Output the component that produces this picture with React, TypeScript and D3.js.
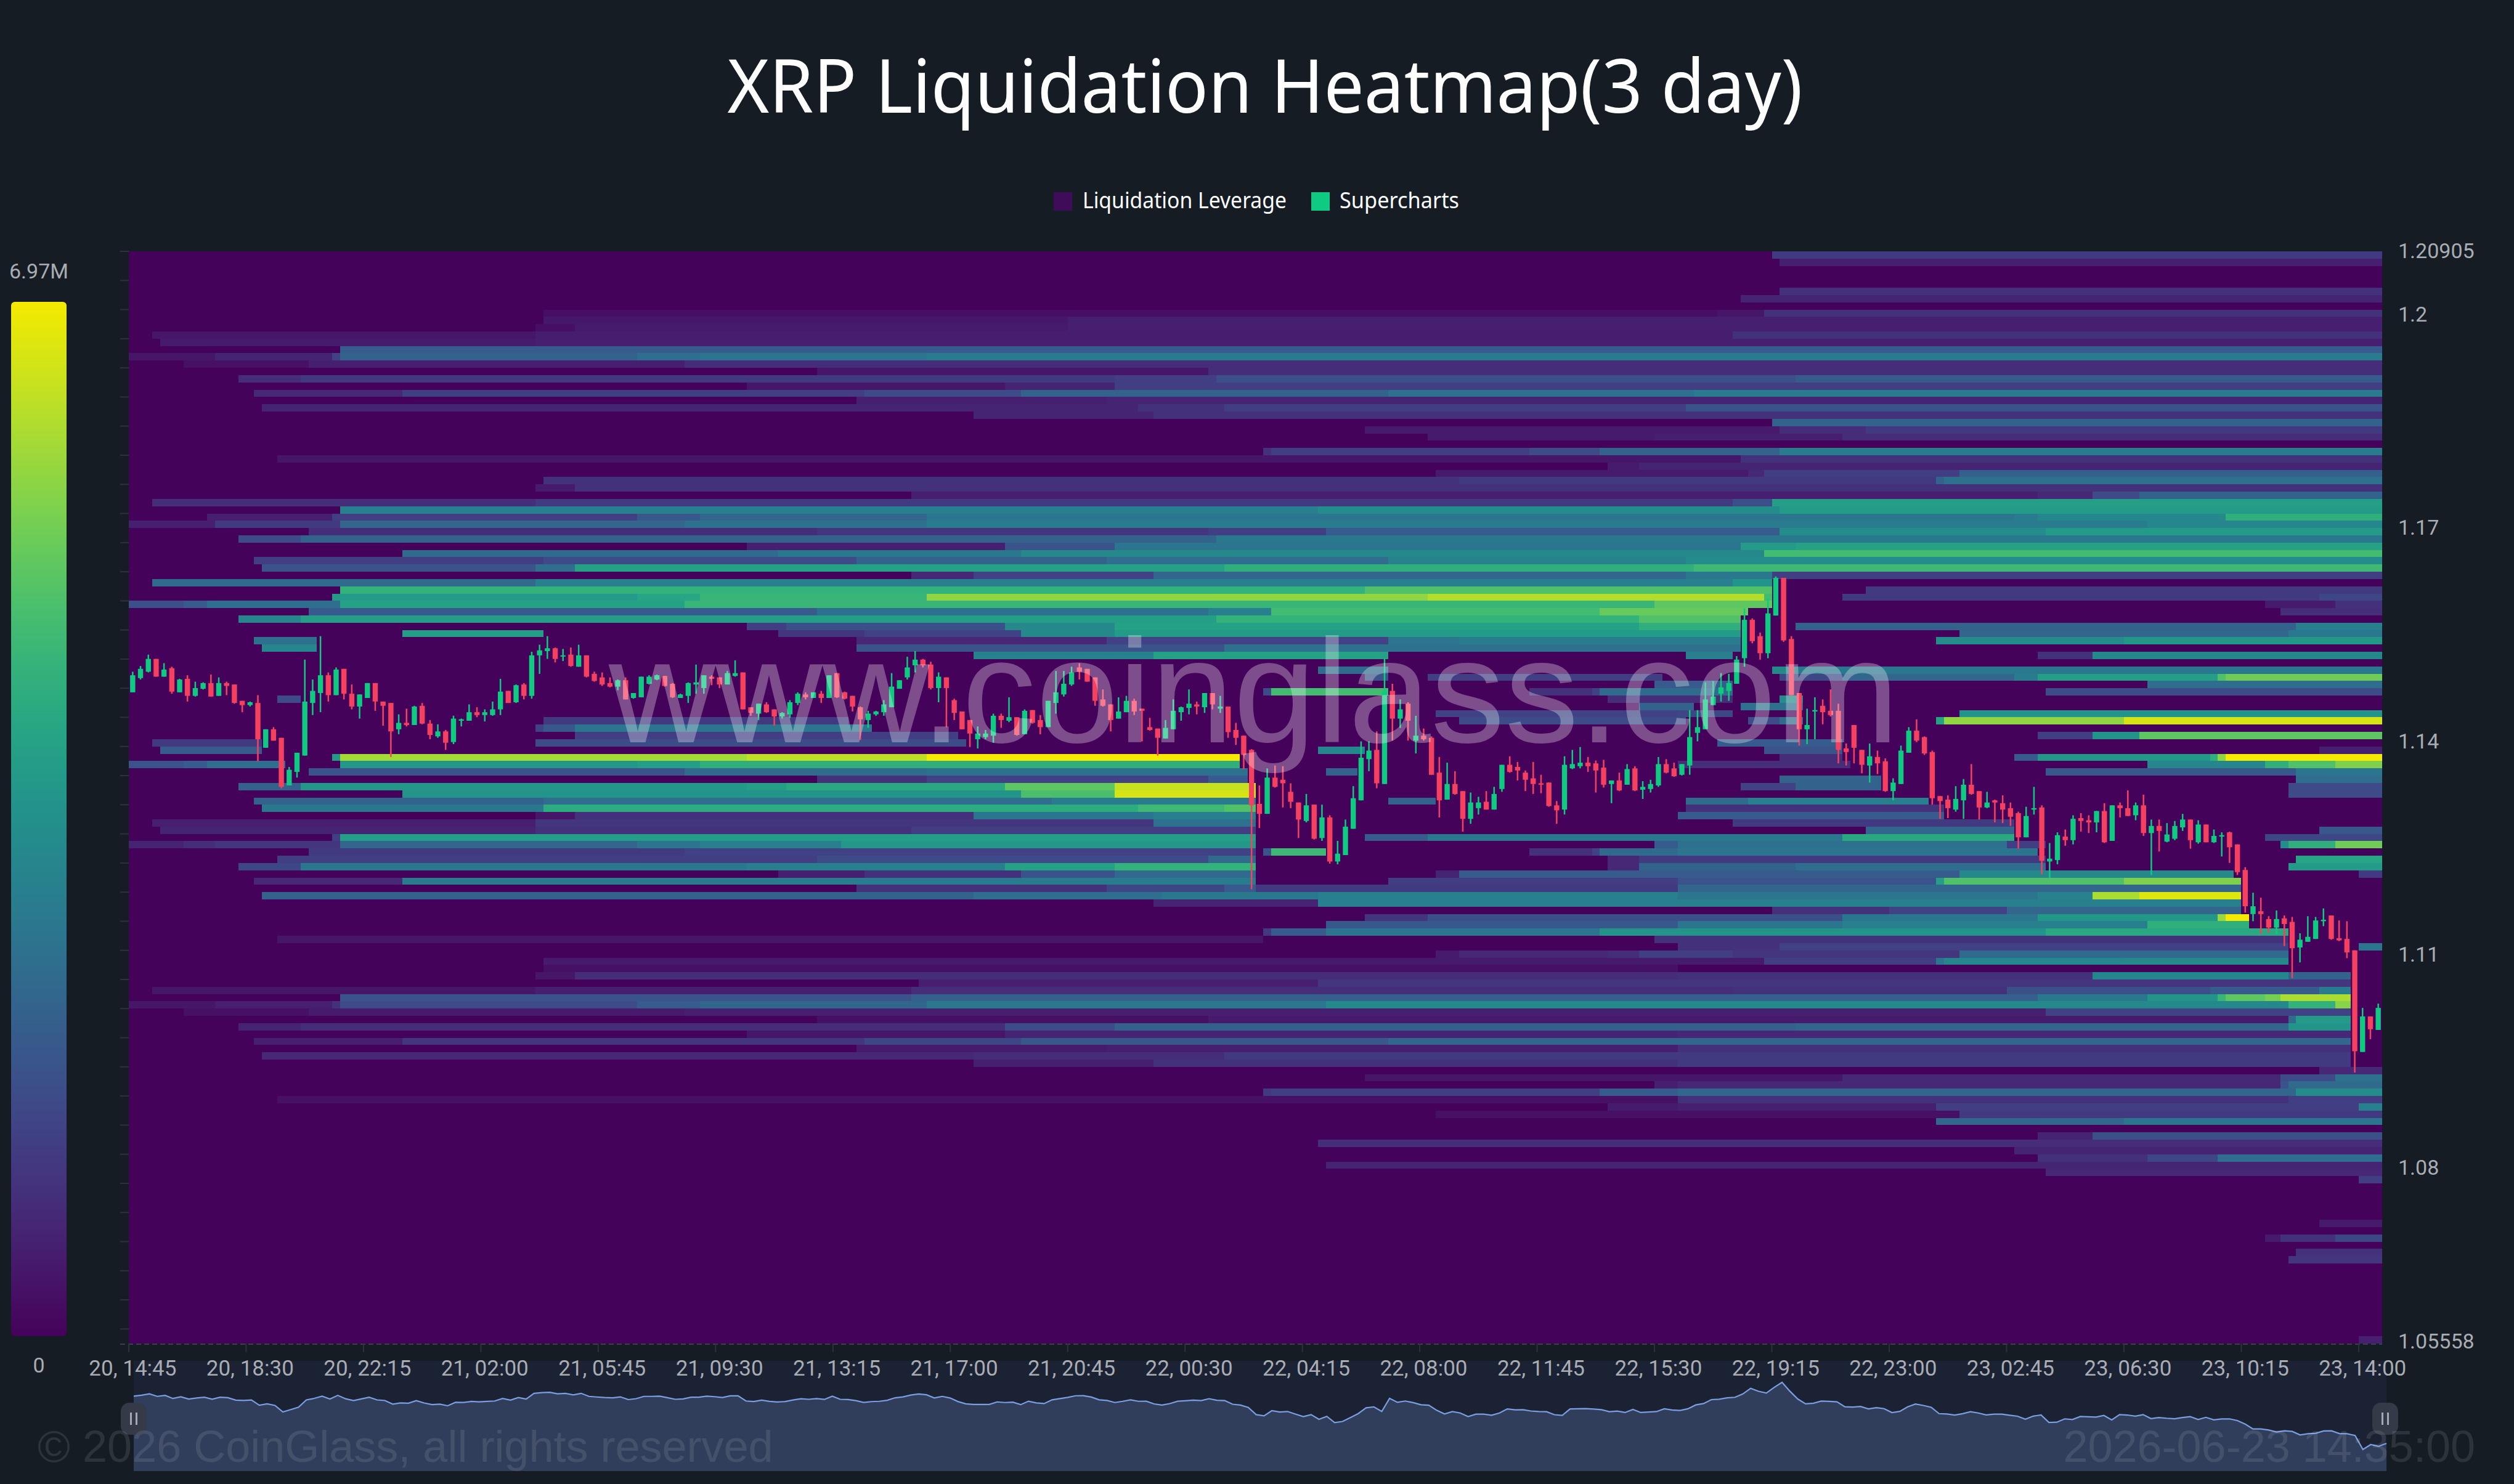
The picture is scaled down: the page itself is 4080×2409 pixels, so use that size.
import React, { useEffect, useRef } from 'react';
import * as d3 from 'd3';

const WIDTH = 4080;
const HEIGHT = 2409;

const titleText = 'XRP Liquidation Heatmap(3 day)';
const maxLabel = '6.97M';
const maxValue = 6.97; // millions
const rowCount = 150;
const colCount = 288; // 15 min columns

const priceTicks = [1.2, 1.17, 1.14, 1.11, 1.08];
const priceEnds = [1.20905, 1.05558];

const timeLabels = [
  '20, 14:45', '20, 18:30', '20, 22:15', '21, 02:00', '21, 05:45', '21, 09:30', '21, 13:15',
  '21, 17:00', '21, 20:45', '22, 00:30', '22, 04:15', '22, 08:00', '22, 11:45', '22, 15:30',
  '22, 19:15', '22, 23:00', '23, 02:45', '23, 06:30', '23, 10:15', '23, 14:00',
];

const colorStops = [
  '#45025a', '#482878', '#3e4989', '#31688e', '#26828e', '#1f9e89', '#35b779', '#6ece58', '#b5de2b', '#f5ea00',
];

// open, high, low, close per 15 min
const candles: number[][] = [
  [1.1468,1.1497,1.1468,1.1492],[1.1488,1.1505,1.1486,1.1501],[1.1497,1.1521,1.1496,1.1515],[1.1515,1.1515,1.1490,1.1490],
  [1.1490,1.1509,1.1490,1.1500],[1.1502,1.1504,1.1466,1.1469],[1.1468,1.1487,1.1468,1.1486],[1.1487,1.1492,1.1455,1.1463],
  [1.1463,1.1483,1.1462,1.1474],[1.1473,1.1482,1.1472,1.1481],[1.1481,1.1493,1.1462,1.1462],[1.1463,1.1489,1.1463,1.1481],
  [1.1481,1.1483,1.1464,1.1477],[1.1479,1.1479,1.1452,1.1453],[1.1456,1.1456,1.1440,1.1450],[1.1450,1.1455,1.1448,1.1454],
  [1.1453,1.1464,1.1371,1.1402],[1.1390,1.1416,1.1390,1.1416],[1.1416,1.1419,1.1400,1.1400],[1.1404,1.1404,1.1333,1.1335],
  [1.1337,1.1363,1.1337,1.1359],[1.1356,1.1383,1.1348,1.1383],[1.1379,1.1514,1.1379,1.1455],[1.1453,1.1486,1.1436,1.1470],
  [1.1467,1.1547,1.1440,1.1492],[1.1492,1.1496,1.1455,1.1464],[1.1464,1.1503,1.1464,1.1500],[1.1501,1.1501,1.1458,1.1466],
  [1.1466,1.1479,1.1444,1.1448],[1.1448,1.1465,1.1431,1.1465],[1.1460,1.1481,1.1460,1.1481],[1.1481,1.1481,1.1442,1.1455],
  [1.1455,1.1455,1.1421,1.1449],[1.1453,1.1453,1.1377,1.1413],[1.1416,1.1437,1.1409,1.1425],[1.1425,1.1445,1.1420,1.1422],
  [1.1422,1.1449,1.1422,1.1448],[1.1449,1.1453,1.1423,1.1424],[1.1424,1.1429,1.1402,1.1408],[1.1406,1.1423,1.1404,1.1413],
  [1.1413,1.1415,1.1387,1.1397],[1.1398,1.1435,1.1395,1.1431],[1.1428,1.1431,1.1420,1.1430],[1.1428,1.1451,1.1428,1.1440],
  [1.1440,1.1447,1.1433,1.1436],[1.1436,1.1444,1.1427,1.1440],[1.1436,1.1455,1.1435,1.1444],[1.1444,1.1487,1.1436,1.1469],
  [1.1470,1.1470,1.1453,1.1453],[1.1454,1.1479,1.1453,1.1478],[1.1479,1.1481,1.1458,1.1463],[1.1463,1.1525,1.1459,1.1520],
  [1.1520,1.1535,1.1494,1.1527],[1.1526,1.1547,1.1515,1.1530],[1.1530,1.1531,1.1510,1.1515],[1.1519,1.1529,1.1512,1.1520],
  [1.1521,1.1531,1.1504,1.1505],[1.1504,1.1535,1.1504,1.1520],[1.1520,1.1520,1.1489,1.1490],[1.1494,1.1497,1.1483,1.1484],
  [1.1489,1.1496,1.1477,1.1479],[1.1481,1.1489,1.1475,1.1476],[1.1476,1.1486,1.1471,1.1485],[1.1485,1.1489,1.1458,1.1458],
  [1.1460,1.1467,1.1459,1.1467],[1.1461,1.1490,1.1461,1.1490],[1.1480,1.1492,1.1479,1.1490],[1.1486,1.1493,1.1485,1.1492],
  [1.1491,1.1491,1.1476,1.1477],[1.1480,1.1481,1.1460,1.1461],[1.1460,1.1466,1.1460,1.1465],[1.1463,1.1482,1.1453,1.1481],
  [1.1479,1.1507,1.1466,1.1482],[1.1474,1.1492,1.1466,1.1492],[1.1490,1.1492,1.1478,1.1487],[1.1489,1.1489,1.1474,1.1479],
  [1.1479,1.1498,1.1479,1.1495],[1.1491,1.1513,1.1490,1.1495],[1.1496,1.1496,1.1444,1.1444],[1.1447,1.1447,1.1435,1.1439],
  [1.1438,1.1452,1.1429,1.1452],[1.1451,1.1454,1.1439,1.1440],[1.1444,1.1444,1.1421,1.1434],[1.1434,1.1440,1.1431,1.1439],
  [1.1437,1.1457,1.1432,1.1454],[1.1453,1.1468,1.1450,1.1466],[1.1465,1.1468,1.1458,1.1461],[1.1460,1.1468,1.1460,1.1468],
  [1.1466,1.1470,1.1453,1.1460],[1.1460,1.1492,1.1460,1.1492],[1.1495,1.1495,1.1460,1.1461],[1.1468,1.1469,1.1458,1.1459],
  [1.1463,1.1463,1.1441,1.1448],[1.1447,1.1448,1.1401,1.1430],[1.1429,1.1442,1.1418,1.1438],[1.1437,1.1442,1.1435,1.1441],
  [1.1440,1.1457,1.1435,1.1451],[1.1447,1.1495,1.1447,1.1476],[1.1473,1.1485,1.1473,1.1485],[1.1489,1.1518,1.1486,1.1503],
  [1.1506,1.1526,1.1496,1.1514],[1.1514,1.1515,1.1503,1.1506],[1.1507,1.1511,1.1472,1.1474],[1.1474,1.1496,1.1454,1.1490],
  [1.1489,1.1489,1.1419,1.1474],[1.1457,1.1459,1.1429,1.1439],[1.1441,1.1441,1.1416,1.1416],[1.1429,1.1429,1.1391,1.1410],
  [1.1402,1.1420,1.1389,1.1410],[1.1405,1.1415,1.1402,1.1410],[1.1407,1.1438,1.1397,1.1435],[1.1435,1.1438,1.1418,1.1429],
  [1.1428,1.1461,1.1426,1.1433],[1.1433,1.1433,1.1407,1.1408],[1.1409,1.1444,1.1409,1.1442],[1.1443,1.1443,1.1424,1.1425],
  [1.1429,1.1436,1.1409,1.1419],[1.1419,1.1456,1.1419,1.1456],[1.1453,1.1498,1.1438,1.1468],[1.1465,1.1498,1.1462,1.1480],
  [1.1479,1.1504,1.1477,1.1496],[1.1503,1.1509,1.1486,1.1497],[1.1501,1.1501,1.1483,1.1483],[1.1489,1.1489,1.1449,1.1456],
  [1.1458,1.1472,1.1448,1.1449],[1.1451,1.1451,1.1413,1.1429],[1.1431,1.1461,1.1431,1.1441],[1.1440,1.1463,1.1440,1.1456],
  [1.1456,1.1459,1.1436,1.1441],[1.1445,1.1445,1.1399,1.1442],[1.1419,1.1432,1.1414,1.1415],[1.1417,1.1417,1.1379,1.1404],
  [1.1403,1.1429,1.1403,1.1418],[1.1416,1.1458,1.1416,1.1442],[1.1440,1.1448,1.1428,1.1447],[1.1446,1.1472,1.1437,1.1452],
  [1.1451,1.1455,1.1437,1.1448],[1.1447,1.1467,1.1439,1.1467],[1.1467,1.1467,1.1444,1.1451],[1.1445,1.1463,1.1439,1.1448],
  [1.1448,1.1448,1.1404,1.1412],[1.1415,1.1425,1.1394,1.1404],[1.1407,1.1407,1.1360,1.1380],[1.1387,1.1388,1.1191,1.1309],
  [1.1311,1.1337,1.1277,1.1297],[1.1297,1.1361,1.1297,1.1348],[1.1348,1.1365,1.1334,1.1335],[1.1345,1.1364,1.1306,1.1340],
  [1.1328,1.1340,1.1305,1.1314],[1.1313,1.1313,1.1263,1.1289],[1.1287,1.1325,1.1285,1.1309],[1.1310,1.1310,1.1261,1.1262],
  [1.1263,1.1310,1.1259,1.1292],[1.1292,1.1295,1.1227,1.1230],[1.1230,1.1259,1.1226,1.1241],[1.1239,1.1289,1.1239,1.1279],
  [1.1276,1.1336,1.1276,1.1319],[1.1316,1.1399,1.1316,1.1376],[1.1374,1.1399,1.1357,1.1386],[1.1387,1.1413,1.1333,1.1340],
  [1.1339,1.1515,1.1339,1.1470],[1.1470,1.1480,1.1400,1.1431],[1.1431,1.1458,1.1418,1.1444],[1.1452,1.1454,1.1400,1.1428],
  [1.1400,1.1435,1.1382,1.1407],[1.1407,1.1417,1.1400,1.1402],[1.1404,1.1406,1.1352,1.1352],[1.1355,1.1377,1.1292,1.1316],
  [1.1317,1.1369,1.1317,1.1339],[1.1339,1.1357,1.1324,1.1325],[1.1329,1.1329,1.1272,1.1290],[1.1290,1.1327,1.1283,1.1313],
  [1.1305,1.1321,1.1296,1.1313],[1.1314,1.1329,1.1303,1.1303],[1.1303,1.1335,1.1303,1.1325],[1.1332,1.1366,1.1328,1.1366],
  [1.1366,1.1378,1.1355,1.1356],[1.1363,1.1370,1.1344,1.1358],[1.1355,1.1358,1.1329,1.1345],[1.1347,1.1370,1.1325,1.1339],
  [1.1340,1.1352,1.1326,1.1338],[1.1341,1.1341,1.1307,1.1308],[1.1309,1.1315,1.1283,1.1302],[1.1303,1.1378,1.1296,1.1366],
  [1.1361,1.1387,1.1360,1.1367],[1.1364,1.1391,1.1361,1.1369],[1.1369,1.1377,1.1356,1.1364],[1.1368,1.1372,1.1327,1.1358],
  [1.1362,1.1373,1.1334,1.1338],[1.1339,1.1344,1.1312,1.1344],[1.1344,1.1355,1.1329,1.1330],[1.1338,1.1367,1.1338,1.1360],
  [1.1361,1.1364,1.1329,1.1330],[1.1331,1.1343,1.1318,1.1335],[1.1332,1.1345,1.1327,1.1339],[1.1337,1.1377,1.1335,1.1367],
  [1.1367,1.1374,1.1354,1.1355],[1.1361,1.1369,1.1349,1.1350],[1.1352,1.1367,1.1351,1.1367],[1.1365,1.1443,1.1352,1.1405],
  [1.1411,1.1443,1.1399,1.1419],[1.1416,1.1482,1.1416,1.1458],[1.1450,1.1484,1.1450,1.1462],[1.1466,1.1495,1.1455,1.1475],
  [1.1470,1.1494,1.1456,1.1481],[1.1480,1.1519,1.1480,1.1514],[1.1516,1.1586,1.1504,1.1570],[1.1570,1.1572,1.1537,1.1540],
  [1.1547,1.1552,1.1514,1.1523],[1.1523,1.1600,1.1516,1.1579],[1.1576,1.1631,1.1576,1.1629],[1.1629,1.1629,1.1539,1.1541],
  [1.1543,1.1547,1.1464,1.1464],[1.1467,1.1467,1.1393,1.1416],[1.1416,1.1445,1.1395,1.1422],[1.1441,1.1461,1.1402,1.1443],
  [1.1449,1.1458,1.1423,1.1440],[1.1442,1.1472,1.1434,1.1436],[1.1442,1.1452,1.1368,1.1387],[1.1389,1.1396,1.1365,1.1384],
  [1.1422,1.1422,1.1368,1.1390],[1.1387,1.1387,1.1354,1.1366],[1.1365,1.1396,1.1341,1.1378],[1.1377,1.1386,1.1353,1.1368],
  [1.1371,1.1375,1.1328,1.1329],[1.1329,1.1347,1.1316,1.1341],[1.1339,1.1393,1.1339,1.1386],[1.1383,1.1419,1.1383,1.1414],
  [1.1414,1.1430,1.1398,1.1400],[1.1405,1.1406,1.1380,1.1382],[1.1384,1.1386,1.1310,1.1319],[1.1322,1.1322,1.1290,1.1315],
  [1.1317,1.1323,1.1291,1.1305],[1.1303,1.1336,1.1300,1.1318],[1.1316,1.1346,1.1290,1.1338],[1.1338,1.1367,1.1324,1.1325],
  [1.1329,1.1329,1.1289,1.1306],[1.1306,1.1328,1.1305,1.1313],[1.1316,1.1317,1.1285,1.1313],[1.1312,1.1323,1.1284,1.1303],
  [1.1305,1.1313,1.1280,1.1293],[1.1298,1.1300,1.1248,1.1264],[1.1264,1.1307,1.1264,1.1294],[1.1303,1.1335,1.1296,1.1305],
  [1.1306,1.1309,1.1212,1.1231],[1.1230,1.1256,1.1207,1.1234],[1.1232,1.1271,1.1226,1.1267],[1.1265,1.1275,1.1252,1.1260],
  [1.1260,1.1295,1.1254,1.1290],[1.1291,1.1298,1.1272,1.1287],[1.1288,1.1295,1.1270,1.1285],[1.1285,1.1301,1.1271,1.1301],
  [1.1301,1.1312,1.1256,1.1257],[1.1259,1.1309,1.1259,1.1309],[1.1309,1.1313,1.1292,1.1305],[1.1305,1.1330,1.1294,1.1294],
  [1.1295,1.1313,1.1288,1.1309],[1.1309,1.1324,1.1266,1.1270],[1.1270,1.1289,1.1211,1.1280],[1.1280,1.1289,1.1244,1.1273],
  [1.1258,1.1284,1.1257,1.1268],[1.1262,1.1287,1.1260,1.1280],[1.1278,1.1297,1.1273,1.1289],[1.1289,1.1289,1.1248,1.1260],
  [1.1257,1.1288,1.1255,1.1282],[1.1282,1.1282,1.1257,1.1257],[1.1257,1.1275,1.1256,1.1266],[1.1265,1.1271,1.1237,1.1267],
  [1.1271,1.1272,1.1228,1.1250],[1.1254,1.1254,1.1211,1.1215],[1.1218,1.1222,1.1158,1.1167],[1.1156,1.1186,1.1146,1.1167],
  [1.1160,1.1179,1.1128,1.1156],[1.1149,1.1153,1.1130,1.1137],[1.1137,1.1161,1.1128,1.1149],[1.1150,1.1154,1.1111,1.1142],
  [1.1145,1.1152,1.1066,1.1108],[1.1109,1.1129,1.1088,1.1120],[1.1117,1.1153,1.1117,1.1124],[1.1121,1.1152,1.1121,1.1147],
  [1.1146,1.1164,1.1139,1.1148],[1.1154,1.1154,1.1120,1.1121],[1.1122,1.1147,1.1118,1.1119],[1.1121,1.1146,1.1094,1.1102],
  [1.1105,1.1105,1.0933,1.0963],[1.0962,1.1024,1.0962,1.1012],[1.1012,1.1012,1.0980,1.0994],[1.0993,1.1030,1.0993,1.1024],
];

// row, then col,value pairs: a value holds until the next col, 0 is a gap
const heatRows: number[][] = [
  [0, 210,1.2, 288,0],
  [1, 211,0.6, 288,0],
  [5, 211,1.0, 288,0],
  [6, 206,0.7, 288,0],
  [8, 53,0.25, 203,0.4, 209,1.0, 288,0],
  [9, 53,0.45, 120,0.6, 288,0],
  [10, 52,0.25, 57,0.5, 120,0.6, 288,0],
  [11, 3,0.4, 52,0.55, 205,1.0, 288,0],
  [12, 4,0.5, 52,0.6, 288,0],
  [13, 27,2.0, 288,0],
  [14, 0,0.4, 11,0.7, 26,1.4, 27,2.2, 65,2.5, 73,2.7, 102,2.9, 288,0],
  [15, 7,0.3, 23,0.6, 71,0.9, 288,0],
  [16, 88,0.4, 138,0.9, 288,0],
  [17, 14,0.9, 22,1.2, 126,1.3, 139,1.7, 213,2.0, 288,0],
  [18, 79,0.4, 112,0.7, 126,1.3, 288,0],
  [19, 16,0.8, 35,1.3, 94,1.6, 114,2.2, 161,2.6, 200,2.9, 288,0],
  [20, 93,0.6, 125,0.7, 288,0],
  [21, 17,0.7, 129,1.0, 140,1.3, 199,1.8, 288,0],
  [22, 108,0.7, 131,1.0, 288,0],
  [23, 210,2.2, 288,0],
  [24, 158,0.5, 211,0.9, 222,1.2, 288,0],
  [25, 166,0.5, 195,0.6, 219,0.9, 288,0],
  [27, 145,1.0, 146,1.3, 179,1.6, 188,2.2, 211,2.9, 288,0],
  [28, 19,0.4, 206,1.0, 288,0],
  [29, 189,0.5, 193,0.7, 288,0],
  [30, 167,0.5, 207,0.8, 209,1.3, 234,2.1, 288,0],
  [31, 53,1.0, 170,1.2, 231,2.2, 232,2.6, 288,0],
  [32, 52,0.5, 57,1.0, 288,0],
  [33, 100,0.6, 244,0.8, 251,1.6, 257,2.2, 288,0],
  [34, 3,0.9, 52,1.2, 205,1.7, 210,3.9, 288,0],
  [35, 27,3.0, 152,3.4, 211,3.8, 288,0],
  [36, 10,0.6, 26,1.3, 65,1.9, 73,2.3, 102,2.7, 241,2.9, 244,3.2, 267,3.3, 268,4.4, 288,0],
  [37, 0,0.6, 11,1.2, 27,2.3, 71,2.6, 102,2.9, 258,3.2, 288,0],
  [38, 23,0.9, 88,1.1, 138,1.3, 153,2.0, 211,3.4, 245,3.8, 288,0],
  [39, 14,1.6, 22,2.2, 139,2.8, 288,0],
  [40, 79,0.6, 112,1.8, 126,2.7, 206,3.8, 213,4.0, 288,0],
  [41, 35,2.4, 83,2.8, 114,3.3, 209,4.8, 288,0],
  [42, 16,1.3, 53,1.6, 93,2.2, 125,2.5, 161,3.1, 199,3.4, 288,0],
  [43, 17,1.8, 52,2.5, 57,4.0, 140,4.4, 200,4.7, 288,0],
  [44, 100,0.8, 108,1.4, 131,2.3, 199,2.8, 210,1.3, 288,0],
  [45, 3,2.4, 52,3.0, 205,3.6, 210,0],
  [46, 27,4.5, 158,5.0, 210,0, 222,1.2, 288,0],
  [47, 26,3.8, 65,4.1, 73,4.6, 102,5.8, 166,6.2, 209,4.8, 210,0, 219,1.2, 280,1.5, 288,0],
  [48, 0,1.7, 7,2.0, 10,2.5, 27,4.0, 71,4.6, 195,5.2, 210,0, 273,0.5, 282,1.0, 288,0],
  [49, 23,2.0, 88,2.6, 138,3.0, 146,4.8, 188,5.3, 207,0, 275,0.9, 288,0],
  [50, 14,3.2, 22,3.9, 139,4.5, 193,5.0, 206,0],
  [51, 79,1.3, 84,1.7, 112,3.3, 126,4.0, 193,4.4, 206,0, 213,2.2, 277,3.0, 288,0],
  [52, 35,3.9, 53,0, 83,1.1, 94,1.4, 114,3.3, 126,3.8, 206,0, 234,2.3, 276,2.8, 288,0],
  [53, 16,2.6, 24,0, 93,0.8, 125,1.4, 161,2.7, 170,2.9, 206,0, 231,3.4, 255,3.7, 288,0],
  [54, 17,3.2, 24,0, 93,1.8, 140,2.6, 206,0],
  [55, 108,3.1, 131,4.0, 161,0, 199,3.0, 205,0, 244,1.0, 251,3.3, 288,0],
  [57, 152,2.4, 161,0, 210,3.3, 213,2.8, 288,0],
  [58, 158,1.8, 161,0, 166,1.3, 196,0, 211,1.5, 219,2.3, 241,2.9, 244,3.9, 267,5.0, 268,5.4, 288,0],
  [59, 195,2.0, 205,0, 258,2.5, 288,0],
  [60, 145,1.6, 146,4.8, 161,0, 179,1.0, 187,1.4, 188,2.4, 205,0, 245,1.6, 288,0],
  [61, 19,1.6, 22,0, 189,0.9, 205,0, 211,3.4, 214,0],
  [62, 193,2.2, 200,0, 206,2.6, 214,0],
  [63, 167,1.4, 198,1.5, 205,0, 234,3.6, 288,0],
  [64, 53,1.2, 92,0, 170,1.6, 199,0, 207,1.6, 211,2.4, 214,0, 231,4.0, 232,5.8, 255,6.6, 288,0],
  [65, 52,1.4, 53,1.9, 57,2.7, 95,0],
  [66, 57,1.3, 106,0, 244,1.3, 251,3.6, 257,5.2, 288,0],
  [67, 3,1.2, 17,0, 52,1.6, 107,0, 203,2.0, 219,0],
  [68, 4,2.0, 17,0, 152,3.2, 158,0, 209,1.8, 219,0, 280,0.6, 288,0],
  [69, 26,3.8, 27,6.0, 79,6.3, 102,6.97, 142,0, 211,0.9, 219,0, 241,2.0, 244,3.7, 266,4.4, 267,5.8, 268,6.97, 288,0],
  [70, 0,1.8, 7,2.0, 10,2.5, 20,0, 27,3.7, 65,3.9, 73,4.4, 142,0, 198,0.9, 220,0, 258,3.2, 273,4.4, 276,5.0, 282,5.6, 288,0],
  [71, 23,1.8, 71,2.4, 102,2.6, 143,0, 153,2.2, 157,0, 245,1.9, 277,2.7, 288,0],
  [72, 88,1.0, 102,1.4, 138,2.0, 143,0, 211,2.2, 224,0, 277,2.5, 288,0],
  [73, 14,2.2, 22,3.7, 79,3.9, 84,4.2, 112,5.2, 126,6.4, 144,0, 206,1.4, 213,2.2, 224,0, 276,1.6, 288,0],
  [74, 35,3.6, 114,4.9, 126,6.6, 144,0, 276,1.6, 288,0],
  [75, 16,2.2, 53,2.5, 118,2.9, 144,0, 161,2.2, 167,0, 199,2.4, 207,3.0, 230,0],
  [76, 17,2.8, 53,4.3, 129,4.7, 140,5.0, 144,0, 199,1.0, 232,0],
  [77, 52,0.4, 57,1.0, 108,2.7, 131,3.0, 144,0, 198,2.0, 232,0],
  [78, 3,0.6, 52,1.1, 131,2.6, 144,0, 205,1.2, 241,0],
  [79, 4,0.7, 52,1.0, 100,1.3, 144,0, 222,2.3, 241,0, 280,1.9, 288,0],
  [80, 26,1.3, 27,3.9, 144,0, 158,2.0, 166,2.8, 219,4.2, 241,0, 273,1.5, 288,0],
  [81, 0,0.7, 7,0.9, 11,1.1, 27,2.3, 65,2.7, 73,3.0, 91,3.7, 144,0, 195,2.0, 198,2.6, 240,1.3, 245,0, 275,3.4, 276,4.4, 282,5.4, 288,0],
  [82, 23,1.2, 71,1.4, 144,0, 145,1.8, 146,4.7, 153,0, 179,1.0, 187,1.4, 188,2.4, 198,2.7, 244,0],
  [83, 19,1.3, 88,1.6, 138,2.4, 144,0, 189,0.8, 193,1.2, 245,0, 277,4.1, 288,0],
  [84, 14,1.5, 22,2.8, 79,3.0, 112,4.0, 126,4.5, 144,0, 189,0.8, 193,2.2, 213,2.5, 245,0, 276,3.8, 288,0],
  [85, 83,0.6, 94,1.0, 114,1.8, 126,2.4, 144,0, 167,0.7, 170,2.0, 234,3.3, 269,0, 285,1.2, 288,0],
  [86, 16,0.8, 35,2.9, 144,0, 161,1.3, 198,1.8, 231,3.9, 232,5.0, 255,5.6, 270,0],
  [87, 93,1.0, 125,1.5, 140,2.0, 144,1.2, 198,2.3, 270,0],
  [88, 17,2.2, 108,2.5, 132,2.8, 152,3.0, 198,2.7, 244,3.1, 251,6.1, 257,6.7, 270,0],
  [89, 131,0.7, 152,3.0, 270,0],
  [90, 210,1.0, 225,1.4, 240,2.3, 270,0],
  [91, 158,1.1, 166,1.7, 219,2.7, 244,3.7, 267,5.9, 268,6.97, 271,0],
  [92, 153,1.9, 198,2.7, 219,3.0, 258,4.4, 271,0],
  [93, 145,1.2, 146,2.0, 153,2.7, 188,3.6, 245,4.2, 276,0],
  [94, 19,0.4, 145,0, 195,1.0, 276,0],
  [95, 198,1.0, 211,1.4, 276,0, 285,2.7, 288,0],
  [96, 167,0.5, 170,0.8, 189,0.9, 193,1.3, 205,1.1, 234,2.4, 276,0],
  [97, 53,0.5, 209,1.3, 231,2.7, 232,3.2, 255,3.3, 276,0],
  [98, 53,0.3, 198,0],
  [99, 52,0.4, 57,0.9, 198,1.0, 251,3.2, 276,2.2, 284,0],
  [100, 101,0.6, 152,1.1, 284,0],
  [101, 3,0.4, 52,0.6, 100,0.9, 205,1.0, 240,1.7, 266,2.0, 280,2.9, 284,0],
  [102, 27,1.8, 100,2.1, 244,2.8, 258,3.6, 267,4.6, 268,5.2, 273,5.5, 275,6.1, 284,0],
  [103, 0,0.4, 11,0.6, 26,1.0, 27,1.6, 65,2.0, 73,2.3, 102,2.8, 153,3.3, 276,4.5, 282,5.7, 284,0],
  [104, 7,0.3, 23,0.5, 71,0.6, 245,1.4, 284,0],
  [105, 88,0.3, 138,0.5, 276,2.4, 277,3.8, 284,0],
  [106, 14,0.7, 22,0.9, 112,1.6, 126,2.1, 213,2.3, 276,3.6, 284,0],
  [107, 79,0.4, 112,0.7, 198,0.8, 284,0],
  [108, 16,0.6, 35,1.1, 94,1.5, 114,1.9, 161,2.3, 284,0],
  [109, 93,0.5, 125,0.6, 198,1.0, 284,0],
  [110, 17,0.8, 108,0.9, 140,1.2, 284,0],
  [111, 108,0.6, 131,1.0, 198,1.2, 284,0],
  [112, 280,0.8, 288,0],
  [113, 158,0.4, 219,0.8, 275,1.6, 282,2.6, 288,0],
  [114, 195,0.6, 198,0.8, 275,1.8, 276,2.4, 288,0],
  [115, 145,1.2, 146,1.3, 188,2.0, 198,2.3, 277,3.4, 288,0],
  [116, 19,0.3, 198,1.0, 276,1.3, 288,0],
  [117, 189,0.5, 198,0.6, 231,1.3, 285,3.0, 288,0],
  [118, 167,0.3, 234,1.2, 288,0],
  [119, 231,2.3, 255,2.7, 288,0],
  [121, 244,0.7, 251,1.7, 288,0],
  [122, 152,0.9, 288,0],
  [123, 241,0.7, 288,0],
  [124, 244,1.0, 258,1.5, 267,2.5, 288,0],
  [125, 153,0.7, 288,0],
  [126, 245,0.8, 288,0],
  [127, 285,1.3, 288,0],
  [133, 280,0.5, 288,0],
  [135, 273,0.5, 275,1.0, 282,1.5, 288,0],
  [137, 277,1.0, 288,0],
  [138, 276,1.1, 288,0],
  [149, 285,0.6, 288,0],
];

const plot = { left: 209, right: 3866, top: 408, bottom: 2181 };
const axisFont = 'Roboto, sans-serif';
const textFont = '"Noto Sans", sans-serif';

export default () => {
  const svgRef = useRef<SVGSVGElement>(null);

  useEffect(() => {
    if (!svgRef.current) {
      return;
    }
    document.body.style.margin = '0';

    const svg = d3.select(svgRef.current);
    svg.selectAll('*').remove();

    const color = d3.scaleSequential(d3.interpolateRgbBasis(colorStops)).domain([0, maxValue]);
    const x = d3.scaleLinear().domain([0, colCount]).range([plot.left, plot.right]);
    const rowBand = d3.scaleBand<number>().domain(d3.range(rowCount)).range([plot.top, plot.bottom]);
    const price = d3.scaleLinear().domain([1.2, 1.08]).range([510, 1894.6]);

    svg.append('rect').attr('width', WIDTH).attr('height', HEIGHT).attr('fill', '#151c24');

    // title + legend
    svg.append('text').attr('x', 2053).attr('y', 183).attr('text-anchor', 'middle')
      .attr('font-family', textFont).attr('font-size', 120).attr('fill', '#fff')
      .attr('textLength', 1745).attr('lengthAdjust', 'spacingAndGlyphs').text(titleText);

    const legend = [
      { name: 'Liquidation Leverage', sx: 1710, tx: 1757, w: 331, fill: '#3e0c58' },
      { name: 'Supercharts', sx: 2128, tx: 2174, w: 194, fill: '#0ecb81' },
    ];
    legend.forEach(l => {
      svg.append('rect').attr('x', l.sx).attr('y', 312).attr('width', 30).attr('height', 30).attr('fill', l.fill);
      svg.append('text').attr('x', l.tx).attr('y', 338).attr('font-family', textFont).attr('font-size', 36)
        .attr('fill', '#fff').attr('textLength', l.w).attr('lengthAdjust', 'spacingAndGlyphs').text(l.name);
    });

    // color bar
    const grad = svg.append('defs').append('linearGradient').attr('id', 'bar')
      .attr('x1', 0).attr('x2', 0).attr('y1', 1).attr('y2', 0);
    d3.range(0, 1.001, 0.05).forEach(t => {
      grad.append('stop').attr('offset', t).attr('stop-color', color(t * maxValue));
    });
    svg.append('rect').attr('x', 18).attr('y', 490).attr('width', 90).attr('height', 1679)
      .attr('rx', 6).attr('fill', 'url(#bar)');
    const barLabels = [{ t: maxLabel, y: 440 }, { t: '0', y: 2216 }];
    barLabels.forEach(l => {
      svg.append('text').attr('x', 63).attr('y', l.y).attr('dy', '0.36em').attr('text-anchor', 'middle')
        .attr('font-family', axisFont).attr('font-size', 34).attr('fill', '#a9adb3').text(l.t);
    });

    // heatmap
    svg.append('rect').attr('x', plot.left).attr('y', plot.top)
      .attr('width', plot.right - plot.left).attr('height', plot.bottom - plot.top).attr('fill', color(0));

    const cells = heatRows.flatMap(row => {
      const out: { r: number; c0: number; c1: number; v: number }[] = [];
      for (let i = 1; i + 2 < row.length; i += 2) {
        if (row[i + 1] > 0) out.push({ r: row[0], c0: row[i], c1: row[i + 2], v: row[i + 1] });
      }
      return out;
    });
    svg.append('g').attr('shape-rendering', 'crispEdges').selectAll('rect').data(cells).enter().append('rect')
      .attr('x', d => x(d.c0))
      .attr('y', d => rowBand(d.r) as number)
      .attr('width', d => x(d.c1) - x(d.c0))
      .attr('height', rowBand.bandwidth())
      .attr('fill', d => color(d.v));

    // axis ticks
    const ticks = svg.append('g').attr('stroke', '#2c333b').attr('stroke-width', 2);
    d3.range(0, rowCount + 1, 4).forEach(r => {
      const yy = plot.top + r * rowBand.step();
      ticks.append('line').attr('x1', plot.left - 14).attr('x2', plot.left).attr('y1', yy).attr('y2', yy);
    });
    ticks.append('line').attr('x1', plot.left - 14).attr('x2', plot.right).attr('y1', plot.bottom + 1).attr('y2', plot.bottom + 1)
      .attr('stroke-dasharray', '8 5').attr('stroke', '#3a4048');
    timeLabels.forEach((_, i) => {
      ticks.append('line').attr('x1', x(i * 15)).attr('x2', x(i * 15)).attr('y1', plot.bottom).attr('y2', plot.bottom + 14);
    });

    // candles
    const candleX = (i: number) => x(i + 0.5);
    const g = svg.append('g');
    candles.forEach((c, i) => {
      const [open, high, low, close] = c;
      const up = close >= open;
      const fill = up ? '#0ecb81' : '#f6405f';
      g.append('rect').attr('x', candleX(i) - 1.25).attr('width', 2.5)
        .attr('y', price(high)).attr('height', price(low) - price(high)).attr('fill', fill);
      g.append('rect').attr('x', candleX(i) - 4.2).attr('width', 8.4)
        .attr('y', price(Math.max(open, close)))
        .attr('height', Math.max(2, Math.abs(price(open) - price(close))))
        .attr('fill', fill);
    });

    // slider
    const sx = d3.scaleLinear().domain([0, candles.length - 1]).range([217, 3873]);
    const sy = d3.scaleLinear().domain([1.0963, 1.1629]).range([2353, 2244]);
    svg.append('rect').attr('x', 217).attr('y', 2209).attr('width', 3656).attr('height', 179).attr('fill', '#1a2233');
    const area = d3.area<number[]>()
      .x((_, i) => sx(i)).y0(2388).y1(d => sy(d[3]));
    const line = d3.line<number[]>().x((_, i) => sx(i)).y(d => sy(d[3]));
    svg.append('path').attr('d', area(candles) as string).attr('fill', '#303e5b');
    svg.append('path').attr('d', line(candles) as string).attr('fill', 'none').attr('stroke', '#7b9ee0').attr('stroke-width', 2.2);

    [217, 3871].forEach(hx => {
      svg.append('rect').attr('x', hx - 21).attr('y', 2277).attr('width', 42).attr('height', 52).attr('rx', 14)
        .attr('fill', '#343a47');
      [-4.5, 4.5].forEach(dx => {
        svg.append('rect').attr('x', hx + dx - 1.5).attr('y', 2293).attr('width', 3).attr('height', 20).attr('fill', '#a5a9b1');
      });
    });

    // price + time labels
    const yLabels = [
      ...priceTicks.map(p => ({ y: price(p), t: String(p) })),
      { y: 406.5, t: String(priceEnds[0]) },
      { y: 2177, t: String(priceEnds[1]) },
    ];
    yLabels.forEach(l => {
      svg.append('text').attr('x', 3892).attr('y', l.y).attr('dy', '0.36em')
        .attr('font-family', axisFont).attr('font-size', 34).attr('fill', '#a9adb3').text(l.t);
    });
    timeLabels.forEach((t, i) => {
      svg.append('text').attr('x', candleX(i * 15)).attr('y', 2220).attr('dy', '0.36em').attr('text-anchor', 'middle')
        .attr('font-family', axisFont).attr('font-size', 35).attr('fill', '#a9adb3').text(t);
    });

    // watermarks
    svg.append('text').attr('x', 988).attr('y', 1205).attr('font-family', '"Liberation Sans", Arial, sans-serif')
      .attr('font-size', 240).attr('fill', '#fff').attr('fill-opacity', 0.3).text('www.coinglass.com');
    svg.append('text').attr('x', 61).attr('y', 2373).attr('font-family', '"Liberation Sans", Arial, sans-serif')
      .attr('font-size', 72).attr('fill', '#fff').attr('fill-opacity', 0.1).text('© 2026 CoinGlass, all rights reserved');
    svg.append('text').attr('x', 4017).attr('y', 2373).attr('text-anchor', 'end').attr('font-family', '"Liberation Sans", Arial, sans-serif')
      .attr('font-size', 72).attr('fill', '#fff').attr('fill-opacity', 0.1).text('2026-06-23 14:35:00');
  }, []);

  return <svg ref={svgRef} width={WIDTH} height={HEIGHT} style={{ display: 'block', position: 'absolute', left: 0, top: 0 }} />;
};
